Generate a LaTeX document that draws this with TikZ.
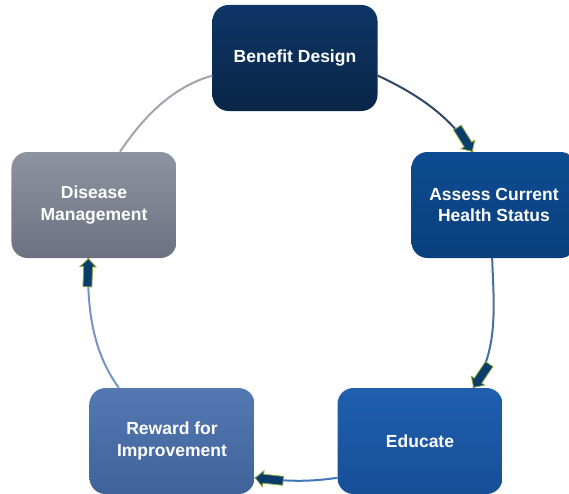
\documentclass[tikz,border=0pt]{standalone}
\usepackage{fontspec}
\setmainfont{Liberation Sans}
\usetikzlibrary{shapes.arrows}
\definecolor{arrowfill}{HTML}{0A3D6B}
\definecolor{arrowedge}{HTML}{8EA83C}
\definecolor{benefittop}{HTML}{0E3566}
\definecolor{benefitbot}{HTML}{0A2648}
\definecolor{assesstop}{HTML}{0D4C92}
\definecolor{assessbot}{HTML}{0A3F7C}
\definecolor{educatetop}{HTML}{1F5FAE}
\definecolor{educatebot}{HTML}{174F97}
\definecolor{rewardtop}{HTML}{5479B2}
\definecolor{rewardbot}{HTML}{3F6299}
\definecolor{diseasetop}{HTML}{8D939F}
\definecolor{diseasebot}{HTML}{6C7282}
\tikzset{
  box/.style={rounded corners=16pt, minimum width=165pt, minimum height=106pt,
    align=center, text=white, font=\fontsize{17.5}{21.5}\selectfont\bfseries},
  link/.style={line width=2pt},
  blockarrow/.style={single arrow, draw=arrowedge, fill=arrowfill, line width=0.8pt,
    minimum height=28pt, minimum width=16pt, inner sep=4pt,
    single arrow head extend=3.5pt, sloped, allow upside down, anchor=tip, pos=1}
}
\begin{document}
\begin{tikzpicture}[x=1pt,y=1pt]
\useasboundingbox (-290,-228) rectangle (279,265);
\node[box, top color=benefittop, bottom color=benefitbot] (benefit) at (5,207) {Benefit Design};
\node[box, top color=assesstop, bottom color=assessbot] (assess) at (204,60) {Assess Current\\Health Status};
\node[box, top color=educatetop, bottom color=educatebot] (educate) at (130,-176) {Educate};
\node[box, top color=rewardtop, bottom color=rewardbot] (reward) at (-118,-176) {Reward for\\Improvement};
\node[box, top color=diseasetop, bottom color=diseasebot] (disease) at (-196,60) {Disease\\Management};
\draw[link, draw=benefitbot!85!white] (benefit.-12) to[out=-25, in=122, looseness=.9] node[blockarrow] {} (assess.112);
\draw[link, draw=assessbot!75!white] (assess.-92) to[out=-88, in=56, looseness=.9] node[blockarrow] {} (educate.45);
\draw[link, draw=educatetop!85!white] (educate.204) to[out=188, in=-6] node[blockarrow] {} (reward.-24);
\draw[link, draw=rewardtop!80!white] (reward.135) to[out=126, in=-92, looseness=.9] node[blockarrow] {} (disease.-96);
\draw[link, draw=diseasetop!85!white] (disease.64) to[out=56, in=196, looseness=.9] (benefit.192);
\end{tikzpicture}
\end{document}
